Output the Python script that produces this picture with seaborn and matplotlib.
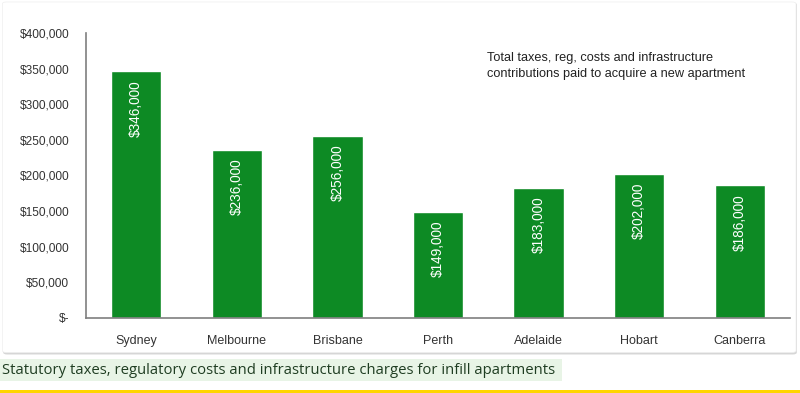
import matplotlib
matplotlib.use("Agg")
import matplotlib.pyplot as plt
from matplotlib.patches import FancyBboxPatch, Rectangle
import pandas as pd
import seaborn as sns

cities = ["Sydney", "Melbourne", "Brisbane", "Perth", "Adelaide", "Hobart", "Canberra"]
costs = [346000, 236000, 256000, 149000, 183000, 202000, 186000]
yticks = [0, 50000, 100000, 150000, 200000, 250000, 300000, 350000, 400000]

GREEN = "#0d8a24"

sns.set_style("white")
plt.rcParams["font.family"] = ["Liberation Sans", "DejaVu Sans"]

df = pd.DataFrame({"city": cities, "cost": costs})

fig = plt.figure(figsize=(8, 3.93), dpi=100)

# background layer: card with soft shadow + caption strip
bg = fig.add_axes([0, 0, 1, 1], zorder=-1)
bg.set_xlim(0, 1)
bg.set_ylim(0, 1)
bg.axis("off")
bg.add_patch(FancyBboxPatch((0.004, 0.098), 0.992, 0.895, boxstyle="round,pad=0,rounding_size=0.005",
                            facecolor="#d6d6d6", edgecolor="none"))
bg.add_patch(FancyBboxPatch((0.003, 0.103), 0.992, 0.892, boxstyle="round,pad=0,rounding_size=0.005",
                            facecolor="white", edgecolor="#eeeeee", lw=0.5))
bg.add_patch(Rectangle((0.0, 0.03), 0.703, 0.056, facecolor="#e8f4e6", edgecolor="none"))
bg.add_patch(Rectangle((0.0, 0.0), 1.0, 0.008, facecolor="#ffd500", edgecolor="none"))
bg.text(0.003, 0.058, "Statutory taxes, regulatory costs and infrastructure charges for infill apartments",
        ha="left", va="center", fontsize=10.7, color="#1f3d22", family=["Open Sans", "DejaVu Sans"])

ax = fig.add_axes([0.1075, 0.191, 0.88, 0.725], zorder=1)
ax.patch.set_alpha(0)
sns.barplot(data=df, x="city", y="cost", color=GREEN, saturation=1, width=0.5, ax=ax)

ax.set_ylim(0, 400000)
ax.set_yticks(yticks)
ax.set_yticklabels(["$-" if v == 0 else f"${v:,.0f}" for v in yticks], fontsize=8.6, color="#333333")
ax.tick_params(axis="x", labelsize=9, colors="#333333", length=0, pad=12)
ax.tick_params(axis="y", length=0, pad=12)
ax.set_xlabel("")
ax.set_ylabel("")
sns.despine(ax=ax, top=True, right=True)
for s in ["left", "bottom"]:
    ax.spines[s].set_color("#7f7f7f")
    ax.spines[s].set_linewidth(1.2)

for i, v in enumerate(costs):
    ax.annotate(f"${v:,.0f}", (i, v), xytext=(0, -6.5), textcoords="offset points",
                rotation=90, ha="center", va="top", color="white", fontsize=9.8)

ax.text(0.57, 0.935, "Total taxes, reg, costs and infrastructure\ncontributions paid to acquire a new apartment",
        transform=ax.transAxes, ha="left", va="top", fontsize=9.2, color="#222222", linespacing=1.45)

fig.savefig("out.png", dpi=100)
